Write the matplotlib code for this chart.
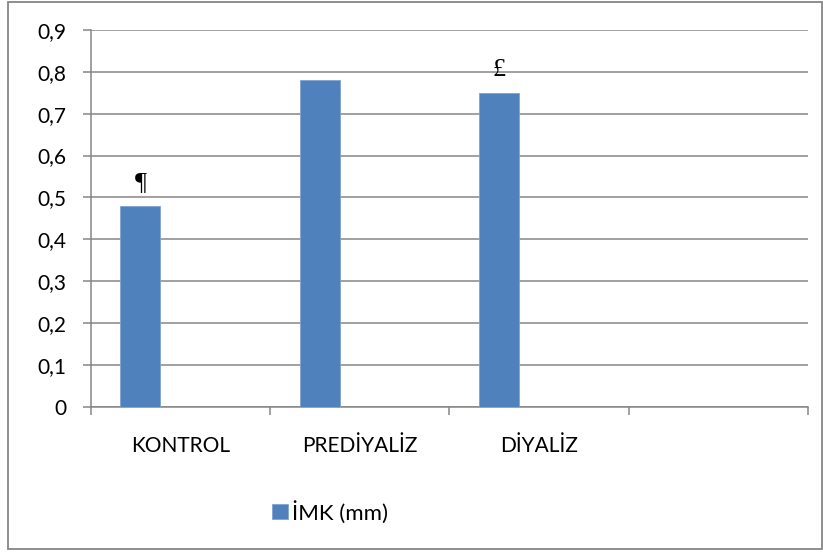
import matplotlib
matplotlib.use("Agg")
import matplotlib.pyplot as plt
from matplotlib.patches import Rectangle
import numpy as np

# chart data
categories = ["KONTROL", "PREDİYALİZ", "DİYALİZ", ""]
imk_values = [0.48, 0.78, 0.75, np.nan]
marks = ["¶", "", "£", ""]
series_name = "İMK (mm)"

W, H = 823, 552
fig = plt.figure(figsize=(W / 100, H / 100), dpi=100)
plt.rcParams['font.family'] = ['Lato', 'DejaVu Sans']

grey = "#868686"
blue = "#4f81bd"

# outer chart border
fig.patches.append(Rectangle((8 / W, 3 / H), (W - 9) / W, (H - 5) / H,
                             transform=fig.transFigure, fill=False,
                             edgecolor=grey, linewidth=1.3))

ax = fig.add_axes([90.7 / W, (H - 406.7) / H, (808 - 90.7) / W, (406.7 - 30) / H])

x = np.arange(len(categories))
w = 0.2228  # three series per slot, only the first has data
bars = ax.bar(x - w, imk_values, width=w, color=blue, edgecolor="#7fa3d0",
              linewidth=0.6, label=series_name, zorder=3)

for xi, v, m in zip(x, imk_values, marks):
    if m:
        ax.text(xi - w, v + 0.04, m, ha="center", va="baseline", fontsize=19,
                family=["Liberation Serif", "DejaVu Serif"], color="black")

ax.set_xlim(-0.5, len(categories) - 0.5)
ax.set_ylim(0, 0.9)
yt = np.round(np.arange(0, 0.91, 0.1), 1)
ax.set_yticks(yt)
ax.set_yticklabels(["0" if t == 0 else f"{t:.1f}".replace(".", ",") for t in yt])
ax.set_xticks(x)
ax.set_xticklabels(categories)
ax.set_xticks(np.arange(-0.5, len(categories)), minor=True)

ax.grid(axis="y", color=grey, linewidth=1.1, zorder=0)
for s in ["top", "right"]:
    ax.spines[s].set_visible(False)
for s in ["left", "bottom"]:
    ax.spines[s].set_color(grey)
    ax.spines[s].set_linewidth(1.1)

ax.tick_params(axis="y", length=5.5, width=1.1, color=grey, labelsize=15, pad=12)
ax.tick_params(axis="x", which="major", length=0, labelsize=15, pad=21)
ax.tick_params(axis="x", which="minor", length=6, width=1.1, color=grey)

leg = fig.legend(handles=[bars], labels=[series_name], loc="center left",
                 bbox_to_anchor=(272 / W, 1 - 512 / H), frameon=False,
                 fontsize=16, handlelength=0.7, handleheight=0.7,
                 handletextpad=0.2, borderaxespad=0, borderpad=0)

fig.savefig("out.png", dpi=100)
